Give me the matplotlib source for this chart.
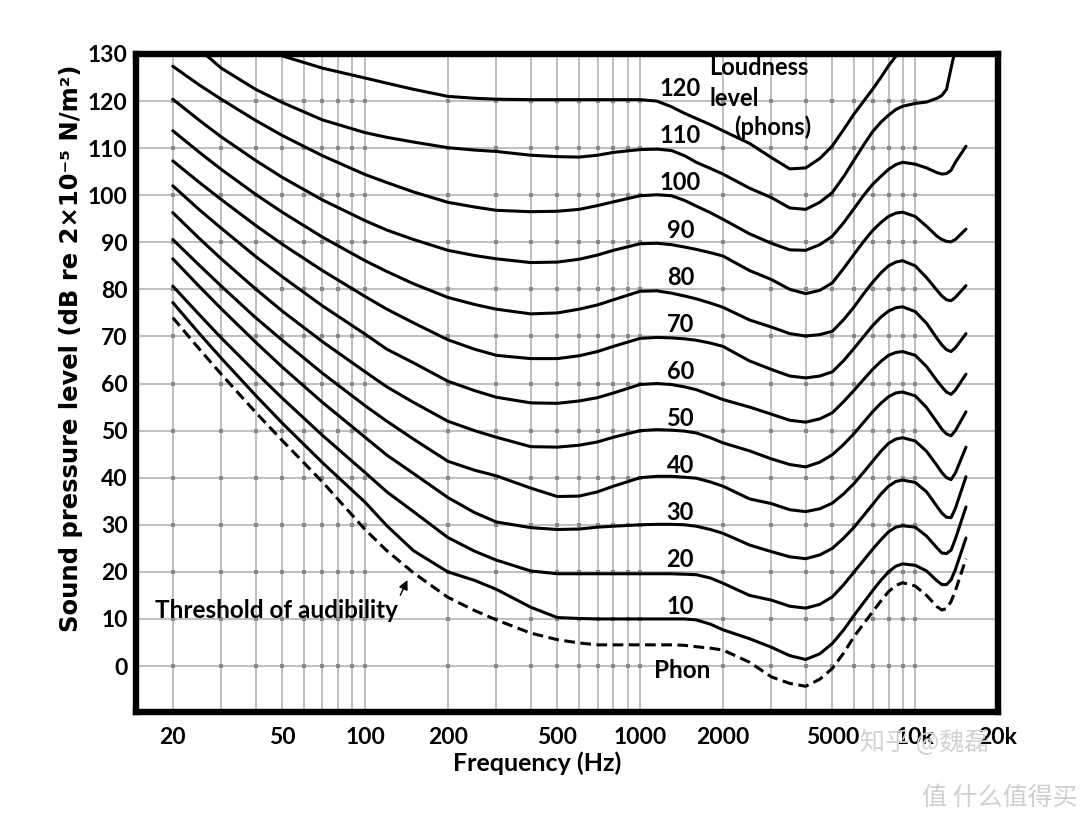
import numpy as np
import matplotlib
matplotlib.use("Agg")
import matplotlib.pyplot as plt

plt.rcParams['font.family'] = ['Lato', 'DejaVu Sans']

nan = np.nan

freqs = [20, 25, 30, 40, 50, 70, 100, 120, 150, 200, 250, 300, 400, 500, 600, 700, 800,
         1000, 1150, 1300, 1450, 1600, 1800, 2000, 2500, 3000, 3500, 4000, 4500, 5000,
         5500, 6000, 6500, 7000, 7500, 8000, 8500, 9000, 10000, 11000, 12000, 12500,
         13000, 13500, 14000, 15300]

# sound pressure level (dB) of each equal loudness contour
p120 = [nan, nan, nan, 132.5, 129.6, 127, 124.9, 123.8, 122.5, 121, 120.6, 120.4, 120.3, 120.3, 120.3, 120.3, 120.3,
        120.3, 120, 118.8, 117.4, 116.3, 115, 113.7, 111, 108, 105.6, 105.8, 107.8, 110.5,
        114, 117.3, 120, 122.5, 125, 127.5, 129.5, 131.5, nan, nan, nan, nan,
        nan, nan, nan, nan]
p110 = [nan, 131, 127, 122.5, 119.7, 116, 113.3, 112.3, 111.3, 110.1, 109.6, 109.3, 108.5, 108.2, 108.1, 108.5, 109.1,
        109.7, 109.8, 109.5, 108.4, 107, 105.7, 104.5, 101.5, 99.5, 97.3, 97, 98.5, 100.6,
        104, 107.5, 110.7, 113.5, 115.5, 117, 118.2, 118.9, 119.5, 119.8, 120.6, 121.2,
        122.5, 127, 131, nan]
p100 = [127.4, 123.4, 120.4, 115.9, 112.7, 108.4, 104.4, 102.7, 100.7, 98.5, 97.5, 96.8, 96.5, 96.6, 97, 97.8, 98.6,
        99.9, 100.1, 99.9, 98.9, 97.7, 96.3, 94.9, 91.8, 89.8, 88.4, 88.3, 89.5, 91.3,
        94.2, 97.2, 100, 102.3, 104, 105.5, 106.5, 107, 106.6, 105.8, 104.8, 104.5,
        104.6, 105.3, 107, 110.4]
p90 = [120.4, 115.9, 112.4, 107.4, 103.8, 99, 94.6, 92.6, 90.6, 88.3, 87.2, 86.5, 85.7, 85.8, 86.4, 87.3, 88.3,
       89.7, 89.8, 89.5, 89, 88.5, 87.8, 87.1, 84, 82.1, 80, 79.1, 79.8, 81.4,
       84.5, 87.5, 90.2, 92.5, 94.2, 95.5, 96.2, 96.4, 95.5, 93.4, 91.3, 90.6,
       90.2, 90.1, 90.6, 92.8]
p80 = [113.7, 109.1, 105.5, 100.2, 96.4, 91.1, 86.1, 83.8, 81.2, 78.3, 76.8, 75.8, 74.8, 75, 75.8, 76.7, 77.8,
       79.6, 79.7, 79.2, 78.6, 78, 77.1, 76.2, 73.5, 72, 70.6, 70.1, 70.4, 71.1,
       73.6, 76.3, 79.1, 81.5, 83.5, 85, 85.8, 86.1, 85, 82.5, 79.8, 78.6,
       77.8, 77.6, 78.3, 80.8]
p70 = [107.3, 102.7, 99.1, 93.6, 89.6, 84, 78.5, 75.8, 72.9, 69.3, 67.3, 66, 65.3, 65.3, 65.9, 66.8, 67.9,
       69.6, 69.8, 69.7, 69.5, 69.2, 68.6, 67.9, 64.8, 63, 61.6, 61.2, 61.6, 62.5,
       64.9, 67.5, 70, 72.3, 74.1, 75.4, 76.1, 76.3, 75.3, 72.8, 69.6, 68.2,
       67.2, 66.8, 67.6, 70.6]
p60 = [102, 96.9, 93, 87, 82.7, 76.5, 70.5, 67.3, 64.4, 60.5, 58.5, 57.1, 55.9, 55.8, 56.3, 57, 58,
       59.8, 60, 59.8, 59.3, 58.7, 57.6, 56.6, 55, 53.5, 52.2, 51.8, 52.5, 53.8,
       56.2, 58.6, 60.9, 63, 64.7, 66, 66.6, 66.8, 66, 63.6, 60.6, 59.3,
       58.2, 57.7, 58.6, 62]
p50 = [96.3, 90.8, 86.5, 80.1, 75.4, 68.9, 62.5, 59.3, 56, 52, 50, 48.6, 46.6, 46.5, 46.9, 47.6, 48.6,
       50, 50.2, 50.1, 49.9, 49.5, 48.5, 47.4, 45.7, 44, 42.8, 42.3, 43.3, 44.9,
       47.1, 49.4, 51.8, 54, 55.8, 57.2, 58, 58.2, 57.4, 54.9, 51.8, 50.3,
       49.3, 48.9, 50, 54]
p40 = [90.6, 85.1, 80.7, 74, 69.2, 62.2, 55.3, 52, 48.2, 43.5, 41.6, 40.4, 37.8, 36, 36.1, 37, 38.2,
       40, 40.3, 40.3, 40.1, 39.9, 39.1, 38.2, 35.5, 34.5, 33.2, 32.8, 33.4, 34.6,
       36.6, 38.8, 41.2, 43.5, 45.6, 47.3, 48.2, 48.5, 47.8, 45.6, 42.6, 41.1,
       40, 39.6, 41, 46.5]
p30 = [86.5, 80.6, 75.9, 68.8, 63.5, 56, 48.6, 44.8, 40.9, 35.8, 32.6, 30.6, 29.4, 29, 29.1, 29.5, 29.7,
       30, 30.1, 30.1, 30, 29.7, 29, 28.2, 25.7, 24.3, 23.2, 22.8, 23.6, 25,
       27.2, 29.5, 32, 34.3, 36.5, 38.2, 39.2, 39.5, 39, 37, 33.9, 32.5,
       31.6, 31.5, 33.5, 40.2]
p20 = [80.7, 74.6, 69.7, 62.4, 56.9, 49, 41.1, 37, 32.8, 27.3, 24.4, 22.5, 20.2, 19.6, 19.6, 19.6, 19.6,
       19.6, 19.6, 19.6, 19.5, 19.4, 18.7, 17.6, 15, 14, 12.7, 12.3, 13.1, 14.7,
       17.3, 20, 22.5, 24.8, 26.8, 28.5, 29.5, 29.8, 29.5, 27.6, 25.1, 24,
       23.9, 24.6, 27, 33.8]
p10 = [77.2, 70.6, 65.4, 57.5, 51.6, 43.2, 34.8, 29.8, 24.5, 20, 18.2, 16.3, 12.5, 10.3, 10.1, 10, 10,
       10, 10, 10, 10, 9.8, 8.9, 7.7, 5.8, 4, 2.2, 1.4, 2.6, 4.8,
       7.7, 10.8, 13.5, 16, 18.2, 20, 21.2, 21.7, 21.4, 20.2, 18.1, 17.3,
       17.3, 18.3, 20.5, 27.2]
threshold = [74, 67.3, 62, 53.9, 47.9, 39.1, 29, 24.5, 19.8, 14.6, 11.8, 9.8, 7, 5.6, 4.9, 4.5, 4.5,
             4.5, 4.5, 4.5, 4.4, 4.1, 3.8, 3.4, 0.8, -2.3, -3.7, -4.3, -2.8, -0.5,
             2.8, 6.3, 9, 11.5, 13.8, 15.8, 17.1, 17.7, 17, 15, 12.6, 11.9,
             12.2, 13.7, 16, 22.8]

contours = [p120, p110, p100, p90, p80, p70, p60, p50, p40, p30, p20, p10]
phons = [120, 110, 100, 90, 80, 70, 60, 50, 40, 30, 20, 10]

xticks = [20, 50, 100, 200, 500, 1000, 2000, 5000, 10000, 20000]
xticklabels = ['20', '50', '100', '200', '500', '1000', '2000', '5000', '10k', '20k']
yticks = list(range(0, 131, 10))

fig = plt.figure(figsize=(10.8, 8.18), dpi=100)
ax = fig.add_axes([136/1080, 1 - 711.7/818, 862/1080, 657.7/818])
ax.set_xscale('log')
ax.set_xlim(14.7, 20000)
ax.set_ylim(-9.7, 130)

# log grid: 20..90, 100..900, 1000..10000
vgrid = [m * 10**k for k in (1, 2, 3) for m in range(1, 10) if 20 <= m * 10**k]
vgrid.append(10000)
for g in vgrid:
    ax.axvline(g, color='#b4b4b4', lw=1.2, zorder=1)
for h in range(0, 130, 10):
    ax.axhline(h, color='#b4b4b4', lw=1.2, zorder=1)
gx, gy = np.meshgrid(vgrid, range(0, 130, 10))
ax.scatter(gx.ravel(), gy.ravel(), s=6, marker='s', color='#888888', lw=0, zorder=1.5)

for vals in contours:
    ax.plot(freqs, vals, color='black', lw=2.2, zorder=3, solid_capstyle='round',
            solid_joinstyle='round')
ax.plot(freqs, threshold, color='black', lw=2.2, ls=(0, (3.5, 1.8)), zorder=3)

# curve labels
for ph in phons:
    ax.text(1400, ph + 2.6, str(ph), ha='center', va='center', fontsize=17,
            fontweight='bold', zorder=4)

ax.text(1788, 127.2, 'Loudness', ha='left', va='center', fontsize=17, fontweight='bold')
ax.text(1788, 120.6, 'level', ha='left', va='center', fontsize=17, fontweight='bold')
ax.text(2203, 114.4, '(phons)', ha='left', va='center', fontsize=17, fontweight='bold')
ax.text(1420, -0.9, 'Phon', ha='center', va='center', fontsize=17.5, fontweight='bold')
ax.text(17.3, 11.7, 'Threshold of audibility', ha='left', va='center', fontsize=17.5,
        fontweight='bold')
ax.annotate('', xy=(144, 18.8), xytext=(133, 14.5),
            arrowprops=dict(arrowstyle='-|>', color='black', lw=1, mutation_scale=14))

ax.set_xticks(xticks)
ax.set_xticklabels(xticklabels)
ax.set_yticks(yticks)
ax.minorticks_off()
ax.tick_params(axis='both', length=0, labelsize=16.5)
ax.tick_params(axis='x', pad=11)
ax.tick_params(axis='y', pad=6)
for lab in ax.get_xticklabels() + ax.get_yticklabels():
    lab.set_fontweight('bold')

for sp in ax.spines.values():
    sp.set_linewidth(4.6)
    sp.set_zorder(5)

fig.text(537/1080, 1 - 763/818, 'Frequency (Hz)', ha='center', va='center', fontsize=18,
         fontweight='bold')
fig.text(71/1080, 1 - 348/818, 'Sound pressure level (dB re 2\u00d710\u207b\u2075 N/m\u00b2)',
         ha='center', va='center', rotation=90, fontsize=17.5, fontweight='bold',
         family=['DejaVu Sans'])

# watermarks
fig.text(925/1080, 1 - 743/818, '知乎 @魏磊', ha='center', va='center', fontsize=18,
         color='#d2d2d2', family=['Noto Sans CJK SC'], zorder=10)
fig.text(1000/1080, 1 - 798/818, '值 什么值得买', ha='center', va='center', fontsize=18,
         color='#cfcfcf', family=['Noto Sans CJK SC'], zorder=10)

fig.savefig('out.png', dpi=100)
